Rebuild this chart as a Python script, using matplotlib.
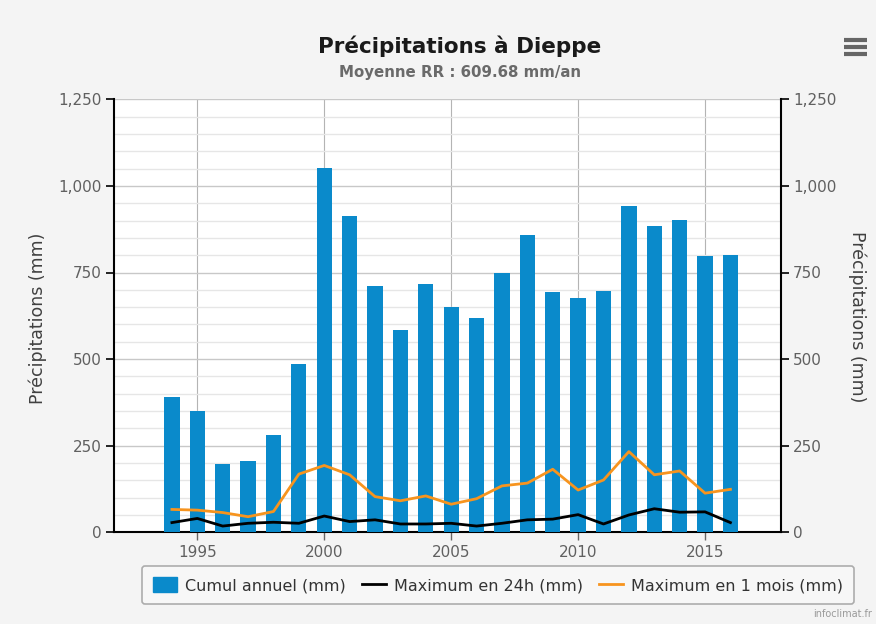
import matplotlib
matplotlib.use("Agg")
import matplotlib.pyplot as plt
from matplotlib.lines import Line2D
from matplotlib.patches import Patch
from matplotlib.ticker import MultipleLocator, FuncFormatter

years = list(range(1994, 2017))
cumul = [392, 349, 197, 206, 281, 486, 1052, 912, 710, 585, 717, 649,
         619, 749, 859, 694, 676, 698, 942, 885, 903, 797, 801]
max_24h = [28, 40, 18, 26, 29, 26, 47, 31, 36, 24, 24, 26,
           18, 26, 36, 38, 51, 24, 50, 68, 58, 59, 28]
max_1mois = [66, 64, 57, 45, 60, 168, 193, 166, 103, 91, 105, 81,
             97, 134, 142, 182, 122, 151, 233, 166, 177, 113, 124]
x_ticks = [1995, 2000, 2005, 2010, 2015]
y_ticks = [0, 250, 500, 750, 1000, 1250]

title = "Précipitations à Dieppe"
subtitle = "Moyenne RR : 609.68 mm/an"
ylabel = "Précipitations (mm)"
legend_labels = ["Cumul annuel (mm)", "Maximum en 24h (mm)", "Maximum en 1 mois (mm)"]

BLUE = "#0a8acb"
ORANGE = "#f7941e"
BG = "#f4f4f4"
TICK_C = "#606060"

plt.rcParams['font.family'] = ['DejaVu Sans']

W, H = 876, 624
fig = plt.figure(figsize=(W / 100, H / 100), dpi=100, facecolor=BG)
L, R, T, B = 114.3, 780.7, 99.3, 532.3
ax = fig.add_axes([L / W, 1 - B / H, (R - L) / W, (B - T) / H])
ax.set_facecolor("white")

ax.bar(years, cumul, width=0.6, color=BLUE, zorder=3)
ax.plot(years, max_24h, color="black", lw=2, zorder=4, solid_joinstyle="round")
ax.plot(years, max_1mois, color=ORANGE, lw=2, zorder=4, solid_joinstyle="round")

ax.set_xlim(1991.73, 2017.98)
ax.set_ylim(0, 1250)
ax.set_xticks(x_ticks)
ax.set_yticks(y_ticks)
ax.yaxis.set_minor_locator(MultipleLocator(50))
ax.yaxis.set_major_formatter(FuncFormatter(lambda v, p: f"{int(v):,}"))

ax.grid(axis="y", which="major", color="#c8c8c8", lw=1, zorder=0)
ax.grid(axis="y", which="minor", color="#e6e6e6", lw=1, zorder=0)
ax.grid(axis="x", which="major", color="#b4b4b4", lw=0.8, zorder=0)

ax.spines["top"].set_visible(False)
for s in ["left", "right", "bottom"]:
    ax.spines[s].set_color("black")
    ax.spines[s].set_linewidth(1.5)

ax.tick_params(axis="y", which="major", length=6, width=1.2, color="black",
               labelsize=11, labelcolor=TICK_C, pad=3,
               left=True, right=True, labelleft=True, labelright=True)
ax.tick_params(axis="y", which="minor", length=0)
ax.tick_params(axis="x", which="major", length=6, width=1, color="#666666",
               labelsize=11, labelcolor=TICK_C, pad=3)

fig.text(38 / W, 1 - 318 / H, ylabel, rotation=90, fontsize=12.5, color="#404040",
         ha="center", va="center")
fig.text(857 / W, 1 - 317 / H, ylabel, rotation=-90, fontsize=12.5, color="#404040",
         ha="center", va="center")

fig.text(460 / W, 1 - 46 / H, title, fontsize=15.5, fontweight="bold",
         color="#1a1a1a", ha="center", va="center")
fig.text(460 / W, 1 - 72 / H, subtitle, fontsize=10.8, fontweight="bold",
         color="#6a6a6a", ha="center", va="center")

# menu icon
for yy in [40, 47, 54]:
    fig.add_artist(Line2D([844 / W, 867 / W], [1 - yy / H, 1 - yy / H],
                          color="#666666", lw=3, solid_capstyle="butt"))

handles = [Patch(facecolor=BLUE, edgecolor=BLUE),
           Line2D([0], [0], color="black", lw=2),
           Line2D([0], [0], color=ORANGE, lw=2)]
leg = fig.legend(handles, legend_labels, ncol=3, loc="center",
                 bbox_to_anchor=(498 / W, 1 - 585 / H), fontsize=11.5,
                 frameon=True, fancybox=True, edgecolor="#9a9a9a",
                 facecolor="#f8f8f8", handlelength=1.5, handleheight=1.1,
                 handletextpad=0.5, columnspacing=1.0, borderpad=0.7,
                 borderaxespad=0)
leg.get_frame().set_linewidth(1.2)
for t in leg.get_texts():
    t.set_color("#333333")

fig.text(872 / W, 1 - 614 / H, "infoclimat.fr", fontsize=7, color="#9a9a9a",
         ha="right", va="center")

fig.savefig("out.png", dpi=100, facecolor=BG)
